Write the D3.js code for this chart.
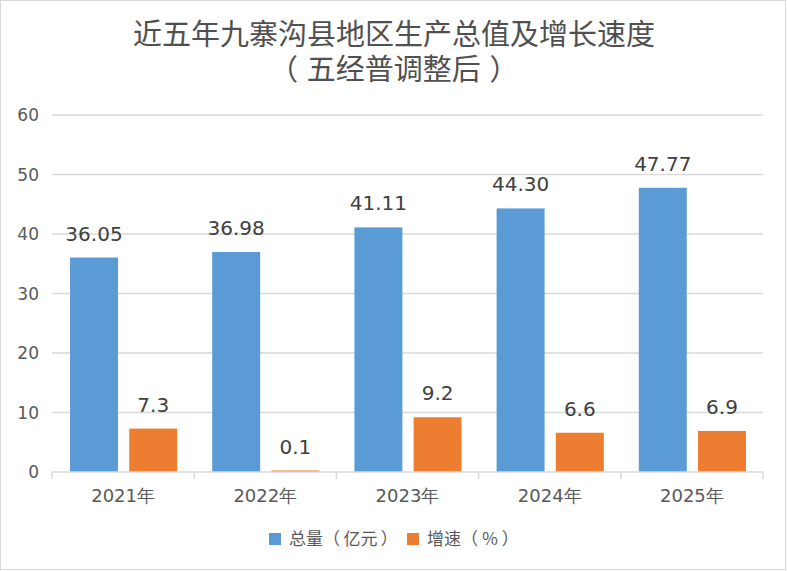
<!DOCTYPE html>
<html>
<head>
<meta charset="utf-8">
<script src="https://cdn.jsdelivr.net/npm/d3@7"></script>
<style>
  body { margin: 0; background: #fff; }
  svg { display: block; }
</style>
</head>
<body>
<div id="chart"></div>
<script>
// chart data
var years = ["2021年", "2022年", "2023年", "2024年", "2025年"];
var totals = [36.05, 36.98, 41.11, 44.30, 47.77];   // 总量（亿元）
var growth = [7.3, 0.1, 9.2, 6.6, 6.9];             // 增速（％）
var totalLabels = ["36.05", "36.98", "41.11", "44.30", "47.77"];
var growthLabels = ["7.3", "0.1", "9.2", "6.6", "6.9"];
var seriesNames = ["总量（亿元）", "增速（％）"];
var yTicks = [0, 10, 20, 30, 40, 50, 60];

var width = 787, height = 571;
var colors = ["#5B9BD5", "#ED7D31"];
var font = "'DejaVu Sans', Verdana, sans-serif";
var cjk = "'Noto Sans CJK SC', 'DejaVu Sans', sans-serif";

var svg = d3.select("#chart").append("svg")
  .attr("width", width)
  .attr("height", height);

// the original font leaves a gap inside fullwidth brackets,
// so add a little space after "（" and before "）"
function bracketText(sel, str, shift) {
  var runs = [], cur = "", dx = 0;
  str.split("").forEach(function(c) {
    if (c == "）") {
      if (cur) runs.push([cur, dx]);
      cur = ""; dx = shift;
    }
    cur += c;
    if (c == "（") {
      runs.push([cur, dx]);
      cur = ""; dx = shift;
    }
  });
  if (cur) runs.push([cur, dx]);
  runs.forEach(function(r) {
    var t = sel.append("tspan").text(r[0]);
    if (r[1]) t.attr("dx", r[1] + "em");
  });
}

// outer frame
svg.append("rect")
  .attr("x", 0.5).attr("y", 0.5)
  .attr("width", width - 2).attr("height", height - 2)
  .attr("fill", "#fff")
  .attr("stroke", "#d9d9d9");

// title, two lines
svg.append("text")
  .attr("x", 394).attr("y", 45)
  .attr("text-anchor", "middle")
  .attr("font-family", cjk)
  .attr("font-size", 29)
  .attr("fill", "#505050")
  .text("近五年九寨沟县地区生产总值及增长速度");
svg.append("text")
  .attr("x", 269).attr("y", 80)
  .attr("font-family", cjk)
  .attr("font-size", 29)
  .attr("fill", "#505050")
  .call(bracketText, "（五经普调整后）", 0.3);

// scales
var x0 = d3.scaleBand().domain(years).range([52, 763]);
var x1 = d3.scaleBand().domain([0, 1])
  .range([18, x0.bandwidth() - 17])
  .paddingInner(0.19);
var y = d3.scaleLinear().domain([0, 60]).range([472, 115]);

// gridlines
svg.append("g").selectAll("line")
  .data(yTicks.filter(function(d){ return d > 0; }))
  .enter().append("line")
  .attr("x1", 52).attr("x2", 763)
  .attr("y1", function(d){ return y(d); })
  .attr("y2", function(d){ return y(d); })
  .attr("stroke", "#d9d9d9")
  .attr("stroke-width", 1.5);

// y axis labels
svg.append("g").selectAll("text")
  .data(yTicks)
  .enter().append("text")
  .attr("x", 39)
  .attr("y", function(d){ return y(d) + 6; })
  .attr("text-anchor", "end")
  .attr("font-family", font)
  .attr("font-size", 17)
  .attr("fill", "#595959")
  .text(function(d){ return d; });

// bars
var groups = svg.append("g").selectAll("g")
  .data(years)
  .enter().append("g")
  .attr("transform", function(d){ return "translate(" + x0(d) + ",0)"; });

groups.selectAll("rect")
  .data(function(d, i){ return [totals[i], growth[i]]; })
  .enter().append("rect")
  .attr("x", function(d, j){ return x1(j); })
  .attr("width", x1.bandwidth())
  .attr("y", function(d){ return Math.min(y(d), y(0) - 1.5); })
  .attr("height", function(d){ return Math.max(y(0) - y(d), 1.5); })
  .attr("fill", function(d, j){ return colors[j]; });

groups.selectAll("text.val")
  .data(function(d, i){ return [[totals[i], totalLabels[i]], [growth[i], growthLabels[i]]]; })
  .enter().append("text")
  .attr("class", "val")
  .attr("x", function(d, j){ return x1(j) + x1.bandwidth() / 2; })
  .attr("y", function(d){ return y(d[0]) - 17; })
  .attr("text-anchor", "middle")
  .attr("font-family", font)
  .attr("font-size", 20)
  .attr("fill", "#404040")
  .text(function(d){ return d[1]; });

// x axis line and ticks
var xa = svg.append("g").attr("stroke", "#d9d9d9").attr("stroke-width", 1.5);
xa.append("line")
  .attr("x1", 52).attr("x2", 763)
  .attr("y1", y(0)).attr("y2", y(0));
xa.selectAll("line.tick")
  .data(years.map(function(d){ return x0(d); }).concat([763]))
  .enter().append("line")
  .attr("class", "tick")
  .attr("x1", function(d){ return d; }).attr("x2", function(d){ return d; })
  .attr("y1", y(0)).attr("y2", y(0) + 7);

svg.append("g").selectAll("text")
  .data(years)
  .enter().append("text")
  .attr("x", function(d){ return x0(d) + x0.bandwidth() / 2; })
  .attr("y", 502)
  .attr("text-anchor", "middle")
  .attr("font-family", font)
  .attr("font-size", 18)
  .attr("fill", "#595959")
  .text(function(d){ return d; });

// legend
var legendX = [269, 407];
var legend = svg.append("g").selectAll("g")
  .data(seriesNames)
  .enter().append("g")
  .attr("transform", function(d, i){ return "translate(" + legendX[i] + ",533)"; });
legend.append("rect")
  .attr("width", 12).attr("height", 12)
  .attr("fill", function(d, i){ return colors[i]; });
legend.append("text")
  .attr("x", 20).attr("y", 12)
  .attr("font-family", cjk)
  .attr("font-size", 17)
  .attr("fill", "#595959")
  .each(function(d){ bracketText(d3.select(this), d, 0.2); });
</script>
</body>
</html>
